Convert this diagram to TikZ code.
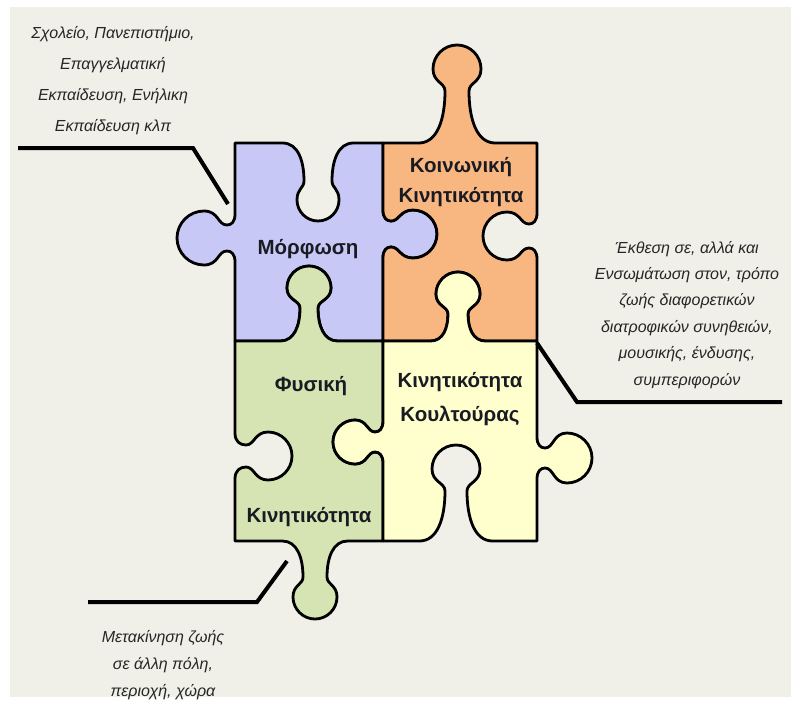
\documentclass[tikz,border=0pt]{standalone}
\usepackage{fontspec}
\setmainfont{Liberation Sans}
\definecolor{bgc}{RGB}{240,240,232}
\definecolor{blueP}{RGB}{200,200,246}
\definecolor{orangeP}{RGB}{248,183,128}
\definecolor{greenP}{RGB}{214,228,180}
\definecolor{yellowP}{RGB}{255,255,206}
\definecolor{txt}{RGB}{38,38,38}
\definecolor{labc}{RGB}{26,26,34}

% ---- jigsaw knob builder: cx cy ux uy vx vy depth radius neck ----
\newcommand\kpt[2]{%
  \pgfmathsetmacro\kpx{\Kcx+(#1)*(\Kux)+(#2)*(\Kvx)}%
  \pgfmathsetmacro\kpy{\Kcy+(#1)*(\Kuy)+(#2)*(\Kvy)}%
  \xdef\knobres{\knobres(\kpx,\kpy)}}
\newcommand\kadd[1]{\xdef\knobres{\knobres#1}}
\newcommand\mkknob[9]{%
  \def\Kcx{#1}\def\Kcy{#2}\def\Kux{#3}\def\Kuy{#4}\def\Kvx{#5}\def\Kvy{#6}%
  \def\Kh{#7}\def\Kr{#8}\def\Kn{#9}%
  \pgfmathsetmacro\Kk{max(#7-2*#8+2,8)}%
  \pgfmathsetmacro\Ks{8+0.35*\Kk}%
  \gdef\knobres{-- }%
  \kpt{-\Kn-\Ks}{0}\kadd{ .. controls }\kpt{-\Kn-0.3*\Ks}{0}\kadd{ and }\kpt{-\Kn}{0.45*\Kk}\kadd{ .. }\kpt{-\Kn}{\Kk}%
  \kadd{ .. controls }\kpt{-\Kn}{\Kk+0.35*\Kr}\kadd{ and }\kpt{-\Kr}{\Kh-1.55*\Kr}\kadd{ .. }\kpt{-\Kr}{\Kh-\Kr}%
  \kadd{ .. controls }\kpt{-\Kr}{\Kh-0.45*\Kr}\kadd{ and }\kpt{-0.55*\Kr}{\Kh}\kadd{ .. }\kpt{0}{\Kh}%
  \kadd{ .. controls }\kpt{0.55*\Kr}{\Kh}\kadd{ and }\kpt{\Kr}{\Kh-0.45*\Kr}\kadd{ .. }\kpt{\Kr}{\Kh-\Kr}%
  \kadd{ .. controls }\kpt{\Kr}{\Kh-1.55*\Kr}\kadd{ and }\kpt{\Kn}{\Kk+0.35*\Kr}\kadd{ .. }\kpt{\Kn}{\Kk}%
  \kadd{ .. controls }\kpt{\Kn}{0.45*\Kk}\kadd{ and }\kpt{\Kn+0.3*\Ks}{0}\kadd{ .. }\kpt{\Kn+\Ks}{0}%
}
% Blue piece (Morfosi)
\mkknob{318}{143}{1}{0}{0}{1}{78}{21}{14}\let\kBT\knobres
\mkknob{383}{234}{0}{1}{1}{0}{54}{24}{13}\let\kBR\knobres
\mkknob{309}{341}{-1}{0}{0}{-1}{75}{22}{9}\let\kBB\knobres
\mkknob{235}{238}{0}{-1}{-1}{0}{58}{27}{13}\let\kBL\knobres
% Orange piece
\mkknob{457}{143}{1}{0}{0}{-1}{98}{24}{12}\let\kOT\knobres
\mkknob{537}{236}{0}{1}{-1}{0}{54}{24}{12}\let\kOR\knobres
\mkknob{458}{341}{-1}{0}{0}{-1}{69}{22}{10}\let\kOB\knobres
\mkknob{383}{234}{0}{-1}{1}{0}{54}{24}{13}\let\kOL\knobres
% Yellow piece
\mkknob{458}{341}{1}{0}{0}{-1}{69}{22}{10}\let\kYT\knobres
\mkknob{537}{458}{0}{1}{1}{0}{55}{25}{10}\let\kYR\knobres
\mkknob{456}{541}{-1}{0}{0}{-1}{96}{24}{11}\let\kYB\knobres
\mkknob{383}{442}{0}{-1}{-1}{0}{50}{22}{10}\let\kYL\knobres
% Green piece
\mkknob{309}{341}{1}{0}{0}{-1}{75}{22}{9}\let\kGT\knobres
\mkknob{383}{442}{0}{1}{-1}{0}{50}{22}{10}\let\kGR\knobres
\mkknob{315}{541}{-1}{0}{0}{1}{78}{22}{12}\let\kGB\knobres
\mkknob{235}{456}{0}{-1}{1}{0}{57}{24}{11}\let\kGL\knobres

\tikzset{
  piece/.style={draw=black, line width=2.8pt, line join=round},
  lab/.style={font=\bfseries\fontsize{20.5}{30}\selectfont, text=labc, anchor=base, align=center, inner sep=0pt},
  note/.style={font=\itshape\fontsize{16}{31}\selectfont, text=txt, anchor=base, align=center, inner sep=0pt},
  lead/.style={draw=black, line width=4pt, line join=miter}
}

\begin{document}
\begin{tikzpicture}[x=1pt,y=-1pt]
\useasboundingbox (0,0) rectangle (791,702);
\fill[white] (0,0) rectangle (791,702);
\fill[bgc] (10,7) rectangle (791,697);

% pieces
\draw[piece, fill=blueP] (235,143) \kBT -- (383,143) \kBR -- (383,341) \kBB -- (235,341) \kBL -- cycle;
\draw[piece, fill=orangeP] (383,143) \kOT -- (537,143) \kOR -- (537,341) \kOB -- (383,341) \kOL -- cycle;
\draw[piece, fill=greenP] (235,341) \kGT -- (383,341) \kGR -- (383,541) \kGB -- (235,541) \kGL -- cycle;
\draw[piece, fill=yellowP] (383,341) \kYT -- (537,341) \kYR -- (537,541) \kYB -- (383,541) \kYL -- cycle;

% labels (base = baseline of last line)
\node[lab] (morf) at (308,254) {Μόρφωση};
\node[lab] (koin) at (461,202) {Κοινωνική\\Κινητικότητα};
\node[lab] (fys) at (311,391) {Φυσική};
\node[lab] (fysk) at (309,522) {Κινητικότητα};
\node[lab, font=\bfseries\fontsize{20.5}{34}\selectfont] (koul) at (460,421) {Κινητικότητα\\Κουλτούρας};

% notes
\node[note] (n1) at (113,131) {Σχολείο, Πανεπιστήμιο,\\Επαγγελματική\\Εκπαίδευση, Ενήλικη\\Εκπαίδευση κλπ};
\node[note, font=\itshape\fontsize{16}{26.4}\selectfont] (n2) at (687,385) {Έκθεση σε, αλλά και\\Ενσωμάτωση στον, τρόπο\\ζωής διαφορετικών\\διατροφικών συνηθειών,\\μουσικής, ένδυσης,\\συμπεριφορών};
\node[note, font=\itshape\fontsize{16}{27}\selectfont] (n3) at (163,696) {Μετακίνηση ζωής\\σε άλλη πόλη,\\περιοχή, χώρα};

% leader lines
\coordinate (l1a) at (18,148);
\coordinate (l1b) at (193,148);
\coordinate (l1c) at (228,204);
\coordinate (l2a) at (537,343);
\coordinate (l2b) at (577,402);
\coordinate (l2c) at (782,402);
\coordinate (l3a) at (287,561);
\coordinate (l3b) at (257,602);
\coordinate (l3c) at (88,602);
\draw[lead] (l1a) -- (l1b) -- (l1c);
\draw[lead] (l2a) -- (l2b) -- (l2c);
\draw[lead] (l3a) -- (l3b) -- (l3c);
\end{tikzpicture}
\end{document}
